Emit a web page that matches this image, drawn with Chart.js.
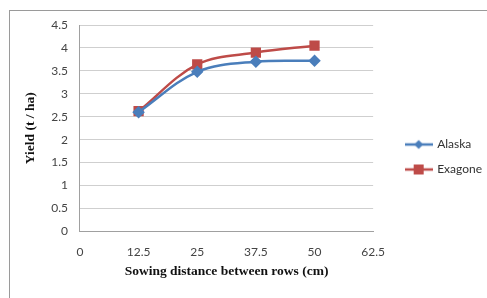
<!DOCTYPE html>
<html><head><meta charset="utf-8">
<script src="https://cdn.jsdelivr.net/npm/chart.js@4"></script>
<style>
html,body{margin:0;padding:0;background:#fff;overflow:hidden;}
#frame{position:absolute;left:9px;top:10px;width:520px;height:320px;border:1px solid #9a9a9a;}
#wrap{position:absolute;left:0;top:0;width:487px;height:298px;}
</style></head>
<body>
<div id="frame"></div>
<div id="wrap"><canvas id="c" width="487" height="298"></canvas></div>
<script>
const distances = [12.5, 25, 37.5, 50];
const alaska = [2.6, 3.48, 3.7, 3.72];
const exagone = [2.62, 3.64, 3.9, 4.05];
const seriesNames = ['Alaska', 'Exagone'];
const xTicks = [0, 12.5, 25, 37.5, 50, 62.5];

const BLUE = '#4A7EBB', RED = '#BE4B48';

function legendIcon(color, style) {
  const cv = document.createElement('canvas');
  cv.width = 28; cv.height = 12;
  const ctx = cv.getContext('2d');
  ctx.strokeStyle = color; ctx.lineWidth = 2.5;
  ctx.beginPath(); ctx.moveTo(0, 6); ctx.lineTo(28, 6); ctx.stroke();
  ctx.fillStyle = color;
  if (style === 'rect') { ctx.fillRect(9, 1, 10, 10); }
  else { ctx.beginPath(); ctx.moveTo(14, 1.5); ctx.lineTo(18.5, 6); ctx.lineTo(14, 10.5); ctx.lineTo(9.5, 6); ctx.closePath(); ctx.fill(); }
  return cv;
}
const icons = [legendIcon(BLUE, 'rectRot'), legendIcon(RED, 'rect')];

const legendShift = {
  id: 'legendShift',
  afterLayout(chart) {
    const l = chart.legend;
    if (l) { l.left += 20; l.right += 20; }
  }
};

new Chart(document.getElementById('c'), {
  type: 'line',
  data: {
    datasets: [
      { label: seriesNames[0], data: distances.map((x, i) => ({x, y: alaska[i]})),
        borderColor: BLUE, backgroundColor: BLUE, borderWidth: 2.5,
        pointStyle: 'rectRot', pointRadius: 4.5, pointHoverRadius: 4.5, tension: 0.35 },
      { label: seriesNames[1], data: distances.map((x, i) => ({x, y: exagone[i]})),
        borderColor: RED, backgroundColor: RED, borderWidth: 2.5,
        pointStyle: 'rect', pointRadius: 5.5, pointHoverRadius: 5.5, tension: 0.35 }
    ]
  },
  options: {
    responsive: false, animation: false,
    layout: { padding: { left: 22, right: 15, top: 25, bottom: 9 } },
    plugins: {
      tooltip: { enabled: false },
      legend: {
        position: 'right',
        labels: {
          font: { family: 'Lato', size: 12 }, color: '#333',
          padding: 13, usePointStyle: true, pointStyleWidth: 25,
          generateLabels: (chart) => chart.data.datasets.map((d, i) => ({
            text: d.label, pointStyle: icons[i], datasetIndex: i, hidden: false,
            fontColor: '#333', lineWidth: 0, strokeStyle: 'transparent', fillStyle: 'transparent'
          }))
        }
      }
    },
    scales: {
      x: {
        type: 'linear', min: 0, max: 62.5,
        afterBuildTicks: (s) => { s.ticks = xTicks.map(v => ({value: v})); },
        grid: { display: false, drawTicks: false },
        border: { color: '#a0a0a0', width: 1 },
        ticks: { font: { family: 'Lato', size: 12 }, color: '#444', padding: 14, maxRotation: 0,
          callback: (v) => String(v) },
        title: { display: true, text: 'Sowing distance between rows (cm)',
          font: { family: 'Liberation Serif', size: 13.5, weight: 'bold' }, color: '#111',
          padding: { top: -10, bottom: 9 } }
      },
      y: {
        min: 0, max: 4.5,
        ticks: { stepSize: 0.5, font: { family: 'Lato', size: 12 }, color: '#444', padding: 12,
          callback: (v) => String(v) },
        grid: { color: '#cfcfcf', drawTicks: false },
        border: { color: '#a0a0a0', width: 1 },
        title: { display: true, text: 'Yield (t / ha)',
          font: { family: 'Liberation Serif', size: 13.5, weight: 'bold' }, color: '#111',
          padding: { top: 0, bottom: 1 } }
      }
    }
  },
  plugins: [legendShift]
});
</script>
</body></html>
